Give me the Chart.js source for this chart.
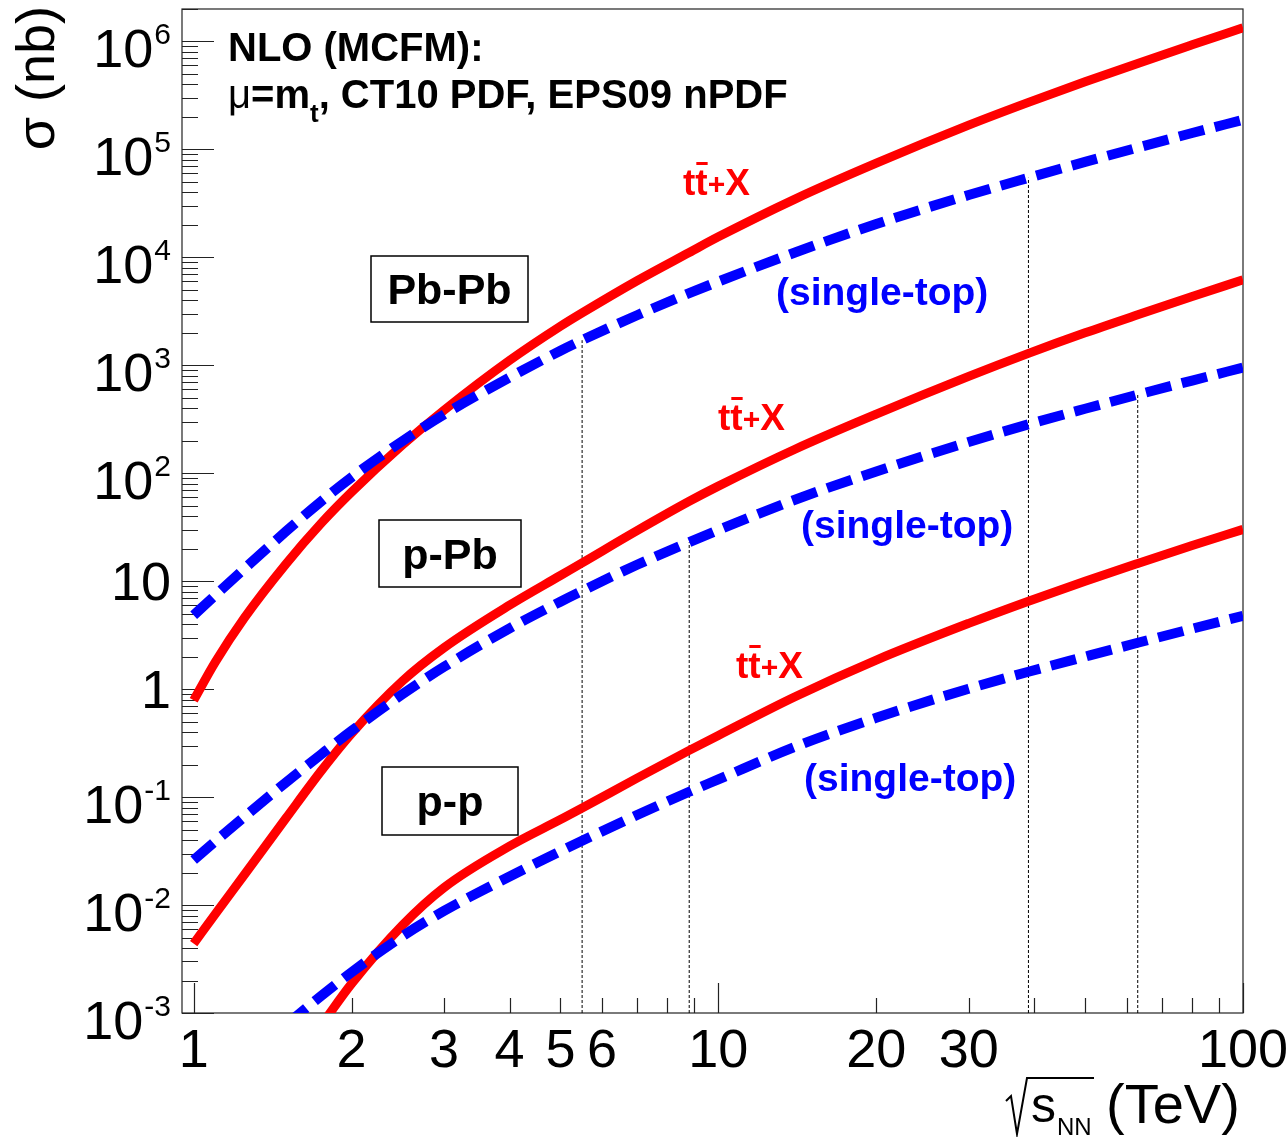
<!DOCTYPE html>
<html><head><meta charset="utf-8">
<script src="https://cdn.jsdelivr.net/npm/chart.js@4"></script>
<style>html,body{margin:0;padding:0;background:#fff}canvas{display:block}</style>
</head><body>
<canvas id="c" width="1288" height="1137" style="width:1288px;height:1137px"></canvas>
<script>
// sqrt(s_NN) in TeV
const energies = [1, 1.1, 1.25, 1.5, 1.75, 2, 2.5, 3, 4, 5, 5.5, 7, 8.8, 10, 14, 20, 30, 39, 50, 63, 80, 100];
// cross sections in nb
const ttbarPbPb = [0.79, 1.79, 4.6, 14.5, 34.4, 67, 183, 384, 1110, 2300, 3060, 6080, 11100, 15500, 34700, 74600, 168000, 273000, 423000, 627000, 931000, 1340000];
const singleTopPbPb = [4.84, 7.43, 13.1, 29.0, 55, 92, 199, 350, 773, 1365, 1710, 2910, 4660, 5970, 11100, 20400, 37800, 54600, 76600, 104000, 142000, 188000];
const ttbarPPb = [0.0044, 0.0083, 0.0192, 0.064, 0.175, 0.389, 1.19, 2.42, 6.0, 11.3, 14.8, 29.4, 55, 76, 167, 353, 789, 1290, 2000, 2940, 4340, 6190];
const singleTopPPb = [0.0261, 0.039, 0.0659, 0.137, 0.249, 0.412, 0.899, 1.61, 3.66, 6.46, 8.13, 14.2, 23.0, 29.8, 56.9, 104, 195, 284, 396, 535, 723, 953];
const ttbarPP = [null, null, null, 0.00028, 0.00077, 0.00187, 0.0065, 0.0145, 0.0351, 0.0619, 0.0791, 0.150, 0.271, 0.373, 0.851, 1.86, 4.07, 6.53, 10.0, 14.6, 21.4, 30.2];
const singleTopPP = [null, null, null, 0.00078, 0.00144, 0.00239, 0.00515, 0.00883, 0.0184, 0.0315, 0.0394, 0.0682, 0.112, 0.146, 0.292, 0.543, 1.01, 1.45, 2.00, 2.69, 3.63, 4.79];

// collider energies marked with dotted lines, and which single-top curve they reach
const facilityEnergies = [5.5, 8.8, 39, 63];
const facilitySystems = ['PbPb', 'pPb', 'PbPb', 'pPb'];

// axis tick labels
const xTickLabels = [1, 2, 3, 4, 5, 6, 10, 20, 30, 100];
const yTickExponents = [-3, -2, -1, 0, 1, 2, 3, 4, 5, 6];

const RED = '#ff0000', BLUE = '#0000ff';
const FONT = '"Liberation Sans", Arial, Helvetica, sans-serif';

function toPoints(vals) {
  const pts = [];
  vals.forEach((v, i) => { if (v !== null) pts.push({x: energies[i], y: v}); });
  return pts;
}
const singleTopBySystem = {PbPb: singleTopPbPb, pPb: singleTopPPb, pp: singleTopPP};

const datasets = [];
facilityEnergies.forEach((e, k) => {
  const top = singleTopBySystem[facilitySystems[k]][energies.indexOf(e)];
  datasets.push({data: [{x: e, y: 1e-3}, {x: e, y: top}], borderColor: '#000', borderWidth: 1,
    borderDash: [3, 2], pointRadius: 0, order: 10, tension: 0});
});
[[ttbarPbPb, singleTopPbPb], [ttbarPPb, singleTopPPb], [ttbarPP, singleTopPP]].forEach(([tt, st]) => {
  datasets.push({data: toPoints(tt), borderColor: RED, borderWidth: 9, pointRadius: 0,
    cubicInterpolationMode: 'monotone', order: 2, borderCapStyle: 'butt'});
  datasets.push({data: toPoints(st), borderColor: BLUE, borderWidth: 10, borderDash: [26, 11], pointRadius: 0,
    cubicInterpolationMode: 'monotone', order: 1, borderCapStyle: 'butt'});
});

function drawTtbar(ctx, x, yBase) {
  ctx.save();
  ctx.fillStyle = RED;
  ctx.textAlign = 'left'; ctx.textBaseline = 'alphabetic';
  ctx.font = 'bold 37px ' + FONT;
  const wt = ctx.measureText('t').width;
  ctx.fillText('t', x, yBase);
  ctx.fillText('t', x + wt, yBase);
  ctx.fillRect(x + wt + 1, yBase - 33, wt - 1, 3);
  ctx.font = 'bold 30px ' + FONT;
  ctx.fillText('+', x + 2 * wt, yBase - 1);
  const wp = ctx.measureText('+').width;
  ctx.font = 'bold 37px ' + FONT;
  ctx.fillText('X', x + 2 * wt + wp, yBase);
  ctx.restore();
}

function drawBoxLabel(ctx, text, x1, y1, x2, y2) {
  ctx.save();
  ctx.strokeStyle = '#000'; ctx.lineWidth = 1.5;
  ctx.strokeRect(x1, y1, x2 - x1, y2 - y1);
  ctx.fillStyle = '#000';
  ctx.font = 'bold 43px ' + FONT;
  ctx.textAlign = 'center'; ctx.textBaseline = 'alphabetic';
  ctx.fillText(text, (x1 + x2) / 2, (y1 + y2) / 2 + 15);
  ctx.restore();
}

const rootStyle = {
  id: 'rootStyle',
  beforeDatasetsDraw(chart) {
    const {ctx, chartArea: a, scales: {x, y}} = chart;
    ctx.save();
    ctx.strokeStyle = '#222'; ctx.lineWidth = 1.2;
    ctx.strokeRect(a.left, a.top, a.right - a.left, a.bottom - a.top);
    ctx.beginPath();
    for (let d = 0; d <= 2; d++) {
      for (let m = 1; m <= 9; m++) {
        const v = m * Math.pow(10, d);
        if (v < x.min || v > x.max) continue;
        const px = Math.round(x.getPixelForValue(v)) + 0.5;
        const len = m === 1 ? 30 : 15;
        ctx.moveTo(px, a.bottom); ctx.lineTo(px, a.bottom - len);
      }
    }
    for (let d = -3; d <= 6; d++) {
      for (let m = 1; m <= 9; m++) {
        const v = m * Math.pow(10, d);
        if (v < y.min || v > y.max * 1.0001) continue;
        const py = Math.round(y.getPixelForValue(v)) + 0.5;
        const len = m === 1 ? 32 : 16;
        ctx.moveTo(a.left, py); ctx.lineTo(a.left + len, py);
      }
    }
    ctx.stroke();
    ctx.restore();
  },
  afterDatasetsDraw(chart) {
    const {ctx, scales: {x, y}} = chart;
    ctx.save();
    ctx.fillStyle = '#000';
    ctx.font = '54px ' + FONT;
    ctx.textAlign = 'center'; ctx.textBaseline = 'alphabetic';
    xTickLabels.forEach(v => ctx.fillText(String(v), x.getPixelForValue(v), 1067));
    const xr = 171;
    yTickExponents.forEach(e => {
      const py = y.getPixelForValue(Math.pow(10, e));
      if (e === 0 || e === 1) {
        ctx.font = '54px ' + FONT; ctx.textAlign = 'right';
        ctx.fillText(e === 0 ? '1' : '10', xr, py + 19);
      } else {
        ctx.font = '30px ' + FONT; ctx.textAlign = 'left';
        const sup = String(e);
        const ws = ctx.measureText(sup).width;
        ctx.fillText(sup, xr - ws, py + 3);
        ctx.font = '54px ' + FONT; ctx.textAlign = 'right';
        ctx.fillText('10', xr - ws - 1, py + 26);
      }
    });
    ctx.save();
    ctx.translate(54, 6);
    ctx.rotate(-Math.PI / 2);
    ctx.font = '54px ' + FONT; ctx.textAlign = 'right';
    ctx.fillText('\u03c3 (nb)', 0, 0);
    ctx.restore();
    ctx.textAlign = 'left';
    ctx.font = '50px ' + FONT;
    ctx.fillText('s', 1031, 1122);
    ctx.font = '24px ' + FONT;
    ctx.fillText('NN', 1057, 1135);
    ctx.font = '56px ' + FONT;
    ctx.fillText('(TeV)', 1106, 1123);
    ctx.strokeStyle = '#000'; ctx.lineWidth = 2;
    ctx.beginPath();
    ctx.moveTo(1006, 1101); ctx.lineTo(1011, 1096); ctx.lineTo(1017, 1134);
    ctx.lineTo(1027, 1078); ctx.lineTo(1094, 1078);
    ctx.stroke();
    ctx.textAlign = 'left';
    ctx.font = 'bold 40px ' + FONT;
    ctx.fillText('NLO (MCFM):', 228, 61);
    let cx = 228;
    ctx.font = '40px ' + FONT;
    ctx.fillText('\u03bc', cx, 108); cx += ctx.measureText('\u03bc').width;
    ctx.font = 'bold 40px ' + FONT;
    ctx.fillText('=m', cx, 108); cx += ctx.measureText('=m').width;
    ctx.font = 'bold 26px ' + FONT;
    ctx.fillText('t', cx, 122); cx += ctx.measureText('t').width;
    ctx.font = 'bold 40px ' + FONT;
    ctx.fillText(', CT10 PDF, EPS09 nPDF', cx, 108);
    drawBoxLabel(ctx, 'Pb-Pb', 371, 256, 528, 322);
    drawBoxLabel(ctx, 'p-Pb', 379, 520, 521, 587);
    drawBoxLabel(ctx, 'p-p', 382, 767, 518, 835);
    drawTtbar(ctx, 683, 195);
    drawTtbar(ctx, 718, 430);
    drawTtbar(ctx, 736, 678);
    ctx.fillStyle = BLUE;
    ctx.font = 'bold 39px ' + FONT;
    ctx.textAlign = 'left';
    ctx.fillText('(single-top)', 776, 305);
    ctx.fillText('(single-top)', 801, 538);
    ctx.fillText('(single-top)', 804, 791);
    ctx.restore();
  }
};

new Chart(document.getElementById('c'), {
  type: 'line',
  data: {datasets},
  options: {
    responsive: false, animation: false, devicePixelRatio: 1,
    layout: {padding: {left: 182, top: 9, right: 45, bottom: 124}},
    plugins: {legend: {display: false}, tooltip: {enabled: false}},
    scales: {
      x: {type: 'logarithmic', min: 0.95, max: 100, display: false},
      y: {type: 'logarithmic', min: 1e-3, max: 2e6, display: false}
    }
  },
  plugins: [rootStyle]
});
</script>
</body></html>
